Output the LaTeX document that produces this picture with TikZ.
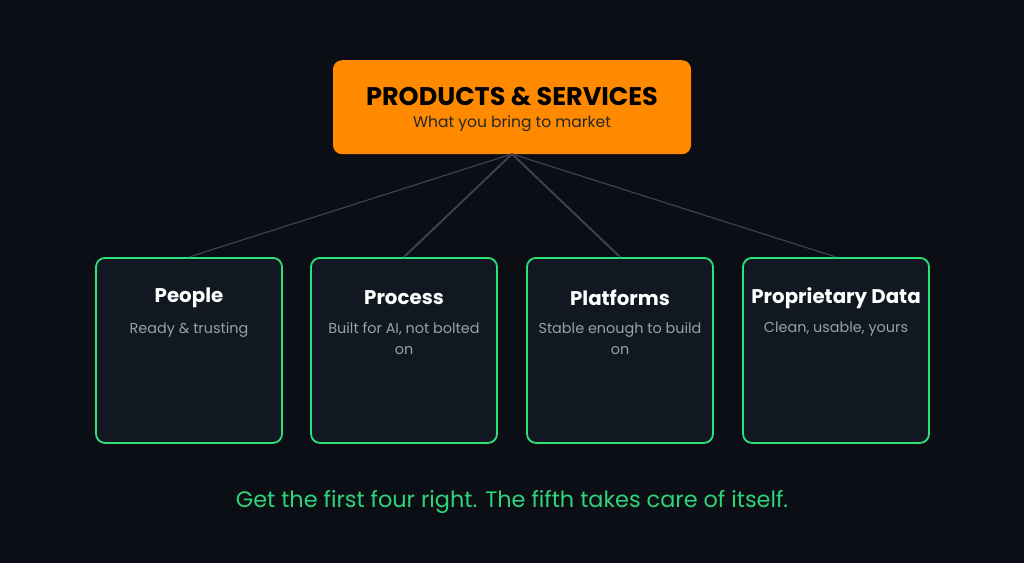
\documentclass[tikz,border=0pt]{standalone}
\usepackage{fontspec}
\setmainfont{Poppins}
\definecolor{bg}{HTML}{0B0E14}
\definecolor{org}{HTML}{FF8A00}
\definecolor{card}{HTML}{111821}
\definecolor{grn}{HTML}{2EE07A}
\definecolor{ftc}{HTML}{2ED47A}
\definecolor{sub}{HTML}{9AA0A8}
\definecolor{ln}{HTML}{3C424B}
\begin{document}
\begin{tikzpicture}[x=1pt,y=-1pt,
 card/.style={draw=grn,line width=1.8pt,fill=card,rounded corners=9pt,minimum width=186pt,minimum height=185pt,anchor=north},
 ttl/.style={text=white,font=\fontsize{19.8}{23}\selectfont\bfseries},
 sb/.style={text=sub,font=\fontsize{14.4}{21}\selectfont,align=center,anchor=north,inner sep=0pt},
 con/.style={draw=ln,line width=1.2pt}]
\fill[bg] (0,0) rectangle (1024,563);
\node[fill=org,rounded corners=9pt,minimum width=358pt,minimum height=94pt,anchor=north] (top) at (512,60) {};
\node[font=\fontsize{25.5}{28}\selectfont\bfseries,text=black] (tt) at (512,97) {PRODUCTS \& SERVICES};
\node[font=\fontsize{15.5}{18}\selectfont,text=black!85] (ts) at (512,124) {What you bring to market};
\foreach \n/\x/\t/\s in {a/189/People/{Ready \& trusting}, b/404/Process/{Built for AI, not bolted\\on}, c/620/Platforms/{Stable enough to build\\on}, d/836/Proprietary Data/{Clean, usable, yours}}{
 \node[card] (\n) at (\x,257) {};
 \node[ttl] (\n t) at (\x,298) {\t};
 \node[sb] (\n s) at (\x,322) {\s};
}
\coordinate (h) at (512,154);
\draw[con] (h) -- (a.north);
\draw[con,line width=2pt] (h) -- (b.north);
\draw[con,line width=2pt] (h) -- (c.north);
\draw[con] (h) -- (d.north);
\node[text=ftc,font=\fontsize{22.4}{26}\selectfont] (ft) at (512,502) {Get the first four right. The fifth takes care of itself.};
\end{tikzpicture}
\end{document}
